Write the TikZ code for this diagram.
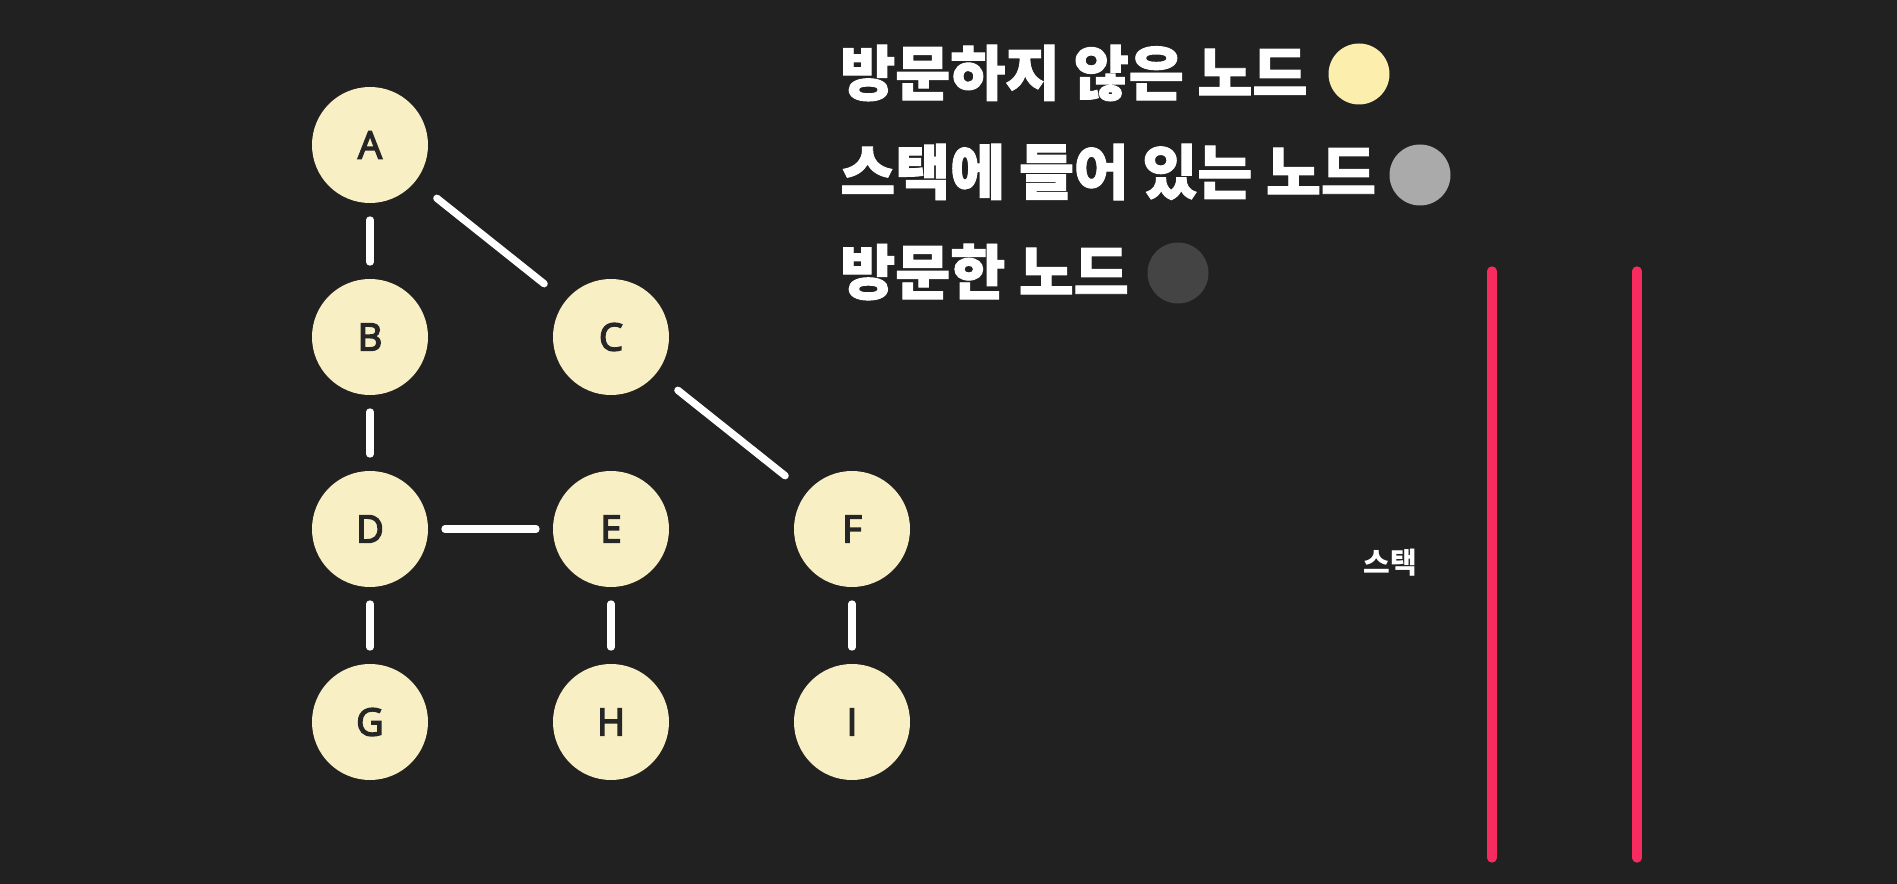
\documentclass[tikz,border=0pt]{standalone}
\usepackage{fontspec}
\setmainfont{Open Sans}[AutoFakeBold=4]
\newfontfamily\kofont{Noto Sans CJK KR}
\newfontfamily\koheavy{Noto Sans CJK KR}[FakeBold=1.6]
\definecolor{bgdark}{HTML}{212121}
\definecolor{nodecream}{HTML}{F8F0C4}
\definecolor{unvisited}{HTML}{FCEEAD}
\definecolor{instack}{HTML}{AAAAAA}
\definecolor{visited}{HTML}{444444}
\definecolor{stackred}{HTML}{F72B60}
\definecolor{letterdark}{HTML}{262626}

\begin{document}
\begin{tikzpicture}[x=0.02cm, y=-0.02cm,
	vertex/.style={circle, fill=nodecream, minimum size=2.32cm, inner sep=0pt, outer sep=0pt, text=letterdark, font=\fontsize{21.5}{25}\selectfont\bfseries},
	edge/.style={draw=white, line width=0.146cm, line cap=round, shorten <=0.34cm, shorten >=0.34cm},
	diag/.style={edge, shorten <=0.55cm, shorten >=0.55cm},
	legend/.style={anchor=west, inner sep=0pt, text=white, font=\koheavy\fontsize{34}{40}\selectfont\bfseries},
	dot/.style={circle, minimum size=1.22cm, inner sep=0pt},
	wall/.style={draw=stackred, line width=0.186cm, line cap=round}]
		% Background
		\useasboundingbox (0,0) rectangle (1897,884);
		\fill[bgdark] (0,0) rectangle (1897,884);
		
		% Graph nodes
		\node[vertex] (A) at (370,145) {A};
		\node[vertex] (B) at (370,337) {B};
		\node[vertex] (C) at (611,337) {C};
		\node[vertex] (D) at (370,529) {D};
		\node[vertex] (E) at (611,529) {E};
		\node[vertex] (F) at (852,529) {F};
		\node[vertex] (G) at (370,722) {G};
		\node[vertex] (H) at (611,722) {H};
		\node[vertex] (I) at (852,722) {I};
		
		% Graph edges
		\draw[edge] (A) -- (B);
		\draw[diag] (A) -- (C);
		\draw[edge] (B) -- (D);
		\draw[diag] (C) -- (F);
		\draw[edge] (D) -- (E);
		\draw[edge] (D) -- (G);
		\draw[edge] (E) -- (H);
		\draw[edge] (F) -- (I);
		
		% Legend
		\node[legend] (unvisitedtext) at (840,73) {방문하지 않은 노드};
		\node[dot, fill=unvisited] (unvisiteddot) at (1359,74) {};
		\node[legend] (stacktext) at (840,172) {스택에 들어 있는 노드};
		\node[dot, fill=instack] (stackdot) at (1420,175) {};
		\node[legend] (visitedtext) at (840,272) {방문한 노드};
		\node[dot, fill=visited] (visiteddot) at (1178,273) {};
		
		% Stack walls
		\coordinate (lefttop) at (1492,271);
		\coordinate (leftbot) at (1492,858);
		\coordinate (righttop) at (1637,271);
		\coordinate (rightbot) at (1637,858);
		\draw[wall] (lefttop) -- (leftbot);
		\draw[wall] (righttop) -- (rightbot);
		
		% Stack label
		\node[text=white, font=\kofont\fontsize{16.5}{20}\selectfont\bfseries] (stacklabel) at (1390,563) {스택};
	\end{tikzpicture}
\end{document}
